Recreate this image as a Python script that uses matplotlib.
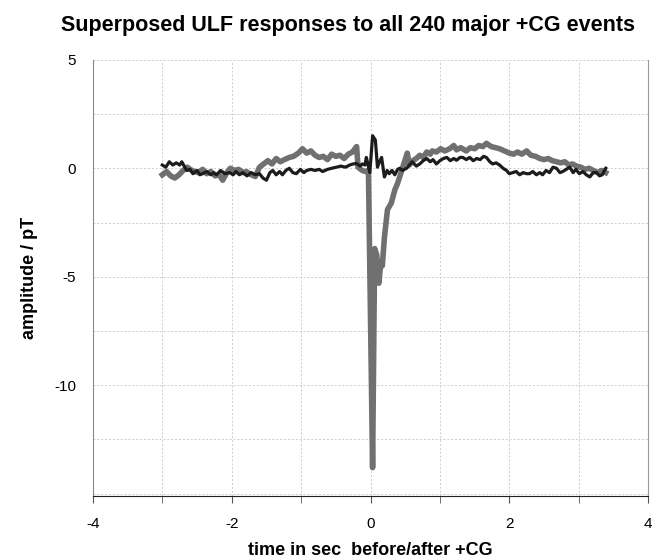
import numpy as np
import matplotlib
matplotlib.use("Agg")
import matplotlib.pyplot as plt
from matplotlib.ticker import MultipleLocator

plt.rcParams['font.family'] = ['Liberation Sans', 'DejaVu Sans']
plt.rcParams['axes.unicode_minus'] = False

# gray trace (thick)
t_gray = [-3.00, -2.94, -2.88, -2.82, -2.76, -2.70, -2.64, -2.60, -2.54, -2.48,
          -2.42, -2.36, -2.30, -2.24, -2.18, -2.13, -2.07, -2.02, -1.96, -1.90,
          -1.84, -1.79, -1.72, -1.66, -1.60, -1.54, -1.48, -1.42, -1.36, -1.30,
          -1.24, -1.17, -1.11, -1.04, -0.98, -0.92, -0.86, -0.80, -0.74, -0.68,
          -0.62, -0.56, -0.50, -0.44, -0.38, -0.32, -0.26, -0.20, -0.18, -0.12,
          -0.07, -0.03, 0.03, 0.06, 0.09, 0.12, 0.15, 0.17, 0.20, 0.245,
          0.30, 0.35, 0.39, 0.45, 0.49, 0.53, 0.56, 0.61, 0.66, 0.71,
          0.76, 0.81, 0.86, 0.89, 0.95, 1.01, 1.07, 1.14, 1.20, 1.24,
          1.30, 1.38, 1.44, 1.50, 1.56, 1.62, 1.67, 1.74, 1.80, 1.86,
          1.93, 2.00, 2.06, 2.12, 2.18, 2.25, 2.31, 2.38, 2.44, 2.50,
          2.56, 2.62, 2.68, 2.74, 2.80, 2.86, 2.91, 2.97, 3.03, 3.09,
          3.15, 3.21, 3.27, 3.33, 3.39]
v_gray = [-0.30, -0.15, -0.35, -0.45, -0.30, -0.10, 0.05, -0.05, -0.15, -0.20,
          -0.05, -0.25, -0.15, -0.35, -0.30, -0.55, -0.20, 0.00, -0.10, -0.05,
          -0.20, -0.15, -0.30, -0.38, 0.05, 0.20, 0.35, 0.20, 0.45, 0.30,
          0.40, 0.50, 0.55, 0.70, 0.90, 0.70, 0.80, 0.60, 0.50, 0.55,
          0.40, 0.65, 0.55, 0.60, 0.45, 0.65, 0.75, 1.00, 0.05, -0.10,
          -0.15, -0.10, -13.8, -3.7, -4.0, -5.3, -4.3, -4.5, -3.2, -1.9,
          -1.6, -1.0, -0.7, -0.10, 0.30, 0.70, 0.15, 0.35, 0.45, 0.60,
          0.50, 0.75, 0.65, 0.80, 0.75, 0.90, 0.80, 0.90, 1.05, 0.85,
          0.95, 0.80, 0.95, 0.90, 1.05, 1.00, 1.15, 1.00, 0.95, 0.90,
          0.80, 0.70, 0.65, 0.75, 0.65, 0.80, 0.60, 0.55, 0.45, 0.40,
          0.45, 0.35, 0.30, 0.25, 0.30, 0.15, 0.20, 0.10, 0.05, -0.05,
          0.00, -0.10, -0.20, -0.10, -0.20]

# black trace
t_black = [-3.00, -2.95, -2.90, -2.85, -2.80, -2.75, -2.72, -2.65, -2.60, -2.56,
           -2.50, -2.46, -2.42, -2.36, -2.30, -2.26, -2.22, -2.16, -2.10, -2.03,
           -1.98, -1.94, -1.89, -1.84, -1.78, -1.72, -1.66, -1.60, -1.55, -1.50,
           -1.45, -1.41, -1.36, -1.31, -1.27, -1.22, -1.17, -1.12, -1.07, -1.01,
           -0.96, -0.92, -0.86, -0.80, -0.74, -0.69, -0.62, -0.56, -0.49, -0.43,
           -0.36, -0.30, -0.25, -0.20, -0.15, -0.12, -0.08, -0.06, -0.01, 0.03,
           0.07, 0.10, 0.13, 0.16, 0.20, 0.24, 0.27, 0.31, 0.35, 0.39,
           0.42, 0.46, 0.52, 0.56, 0.60, 0.66, 0.71, 0.76, 0.81, 0.86,
           0.90, 0.95, 1.00, 1.05, 1.10, 1.15, 1.20, 1.24, 1.29, 1.33,
           1.38, 1.43, 1.48, 1.53, 1.58, 1.63, 1.67, 1.72, 1.76, 1.81,
           1.86, 1.91, 1.96, 2.00, 2.05, 2.10, 2.15, 2.20, 2.25, 2.29,
           2.34, 2.39, 2.44, 2.48, 2.53, 2.58, 2.63, 2.68, 2.73, 2.77,
           2.82, 2.87, 2.92, 2.96, 3.01, 3.06, 3.11, 3.16, 3.21, 3.26,
           3.30, 3.34, 3.39]
v_black = [0.15, 0.05, 0.30, 0.15, 0.25, 0.15, 0.30, -0.10, -0.05, -0.25,
           -0.10, -0.30, -0.25, -0.15, -0.30, -0.20, -0.30, -0.10, -0.25, -0.20,
           -0.30, -0.15, -0.30, -0.20, -0.35, -0.20, -0.30, -0.25, -0.45, -0.55,
           -0.20, -0.10, -0.30, -0.15, -0.30, -0.10, 0.00, -0.20, -0.25, -0.05,
           -0.20, -0.10, -0.05, -0.10, -0.05, -0.15, -0.05, 0.00, 0.05, 0.10,
           0.05, 0.15, 0.20, 0.22, 0.10, 0.20, 0.15, 0.50, -0.20, 1.50,
           1.30, 0.05, 0.30, 0.50, -0.40, -0.10, -0.25, -0.10, -0.30, -0.05,
           0.00, -0.10, 0.00, 0.15, 0.30, 0.10, 0.20, 0.35, 0.45, 0.30,
           0.40, 0.20, 0.35, 0.45, 0.50, 0.35, 0.45, 0.37, 0.50, 0.50,
           0.40, 0.50, 0.35, 0.45, 0.40, 0.55, 0.50, 0.30, 0.20, 0.25,
           0.15, 0.00, -0.10, -0.25, -0.20, -0.15, -0.30, -0.20, -0.25, -0.25,
           -0.15, -0.30, -0.20, -0.30, -0.10, -0.20, 0.05, 0.00, -0.20, -0.15,
           -0.05, 0.05, -0.20, -0.05, -0.25, -0.15, -0.30, -0.40, -0.20, -0.20,
           -0.35, -0.30, 0.00]

y_ticks = [5, 0, -5, -10]

fig = plt.figure(figsize=(6.64, 5.59), dpi=100)
ax = fig.add_axes([0.140, 0.113, 0.836, 0.780])

ax.plot(t_gray, v_gray, color="#707070", lw=4.0, solid_joinstyle="round")
ax.plot(t_black, v_black, color="#1c1c1c", lw=2.3, solid_joinstyle="round")

ax.set_xlim(-4, 4)
ax.set_ylim(-15.1, 5)

ax.xaxis.set_major_locator(MultipleLocator(2))
ax.xaxis.set_minor_locator(MultipleLocator(1))
ax.set_yticks(y_ticks)
ax.yaxis.set_minor_locator(MultipleLocator(2.5))

ax.grid(True, which="both", color="#cccccc", linestyle=(0, (2, 2)), linewidth=0.7)
ax.set_axisbelow(True)

ax.spines["top"].set_visible(False)
ax.spines["right"].set_color("#999999")
ax.spines["left"].set_color("#888888")
ax.spines["bottom"].set_color("#222222")

ax.tick_params(axis="x", which="both", direction="out", length=5, color="#555555",
               labelsize=11, pad=10)
ax.tick_params(axis="y", which="both", length=0, labelsize=11, pad=12)

fig.text(0.524, 0.955, "Superposed ULF responses to all 240 major +CG events",
         fontsize=15.5, fontweight="bold", ha="center", va="center")
ax.set_xlabel("time in sec  before/after +CG", fontsize=13, fontweight="bold", labelpad=8)
ax.set_ylabel("amplitude / pT", fontsize=13, fontweight="bold", labelpad=12)

fig.savefig("out.png", dpi=100)
